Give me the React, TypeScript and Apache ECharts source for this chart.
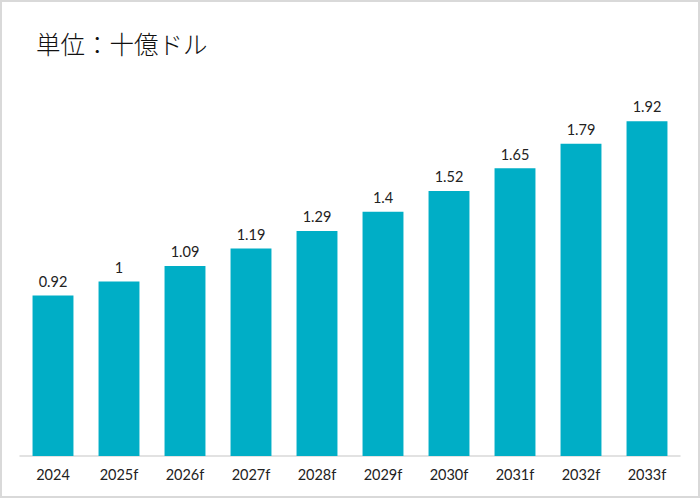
import { useEffect, useRef } from "react";
import * as echarts from "echarts";

const categories = ["2024", "2025f", "2026f", "2027f", "2028f", "2029f", "2030f", "2031f", "2032f", "2033f"];
const values = [0.92, 1, 1.09, 1.19, 1.29, 1.4, 1.52, 1.65, 1.79, 1.92];
const title = "単位：十億ドル";

const FONT = "Lato, 'Noto Sans CJK JP', sans-serif";

export default function App() {
  const ref = useRef<HTMLDivElement | null>(null);

  useEffect(() => {
    if (!ref.current) return;
    const chart = echarts.init(ref.current, undefined, { renderer: "svg" });
    chart.setOption({
      animation: false,
      title: {
        text: title,
        left: 29,
        top: 24,
        textStyle: { fontFamily: "'Noto Sans CJK JP', sans-serif", fontSize: 24.5, fontWeight: 300, color: "#111" },
      },
      grid: { left: 18, right: 18, top: 18, bottom: 40 },
      xAxis: {
        type: "category",
        data: categories,
        axisLine: { lineStyle: { color: "#d9d9d9", width: 1.5 } },
        axisTick: { show: false },
        axisLabel: { color: "#222", fontSize: 14.5, fontFamily: FONT, margin: 11 },
      },
      yAxis: { type: "value", min: 0, max: 2.5, show: false, splitLine: { show: false } },
      series: [
        {
          type: "bar",
          data: values,
          barCategoryGap: "38%",
          itemStyle: { color: "#00AEC6" },
          label: {
            show: true,
            position: "top",
            distance: 7,
            color: "#222",
            fontSize: 14.5,
            fontFamily: FONT,
          },
        },
      ],
    });
    return () => chart.dispose();
  }, []);

  return (
    <div
      style={{
        position: "fixed",
        left: 0,
        top: 0,
        width: 700,
        height: 498,
        boxSizing: "border-box",
        border: "2px solid #d9d9d9",
        background: "#fff",
      }}
    >
      <div ref={ref} style={{ width: 696, height: 494 }} />
    </div>
  );
}
